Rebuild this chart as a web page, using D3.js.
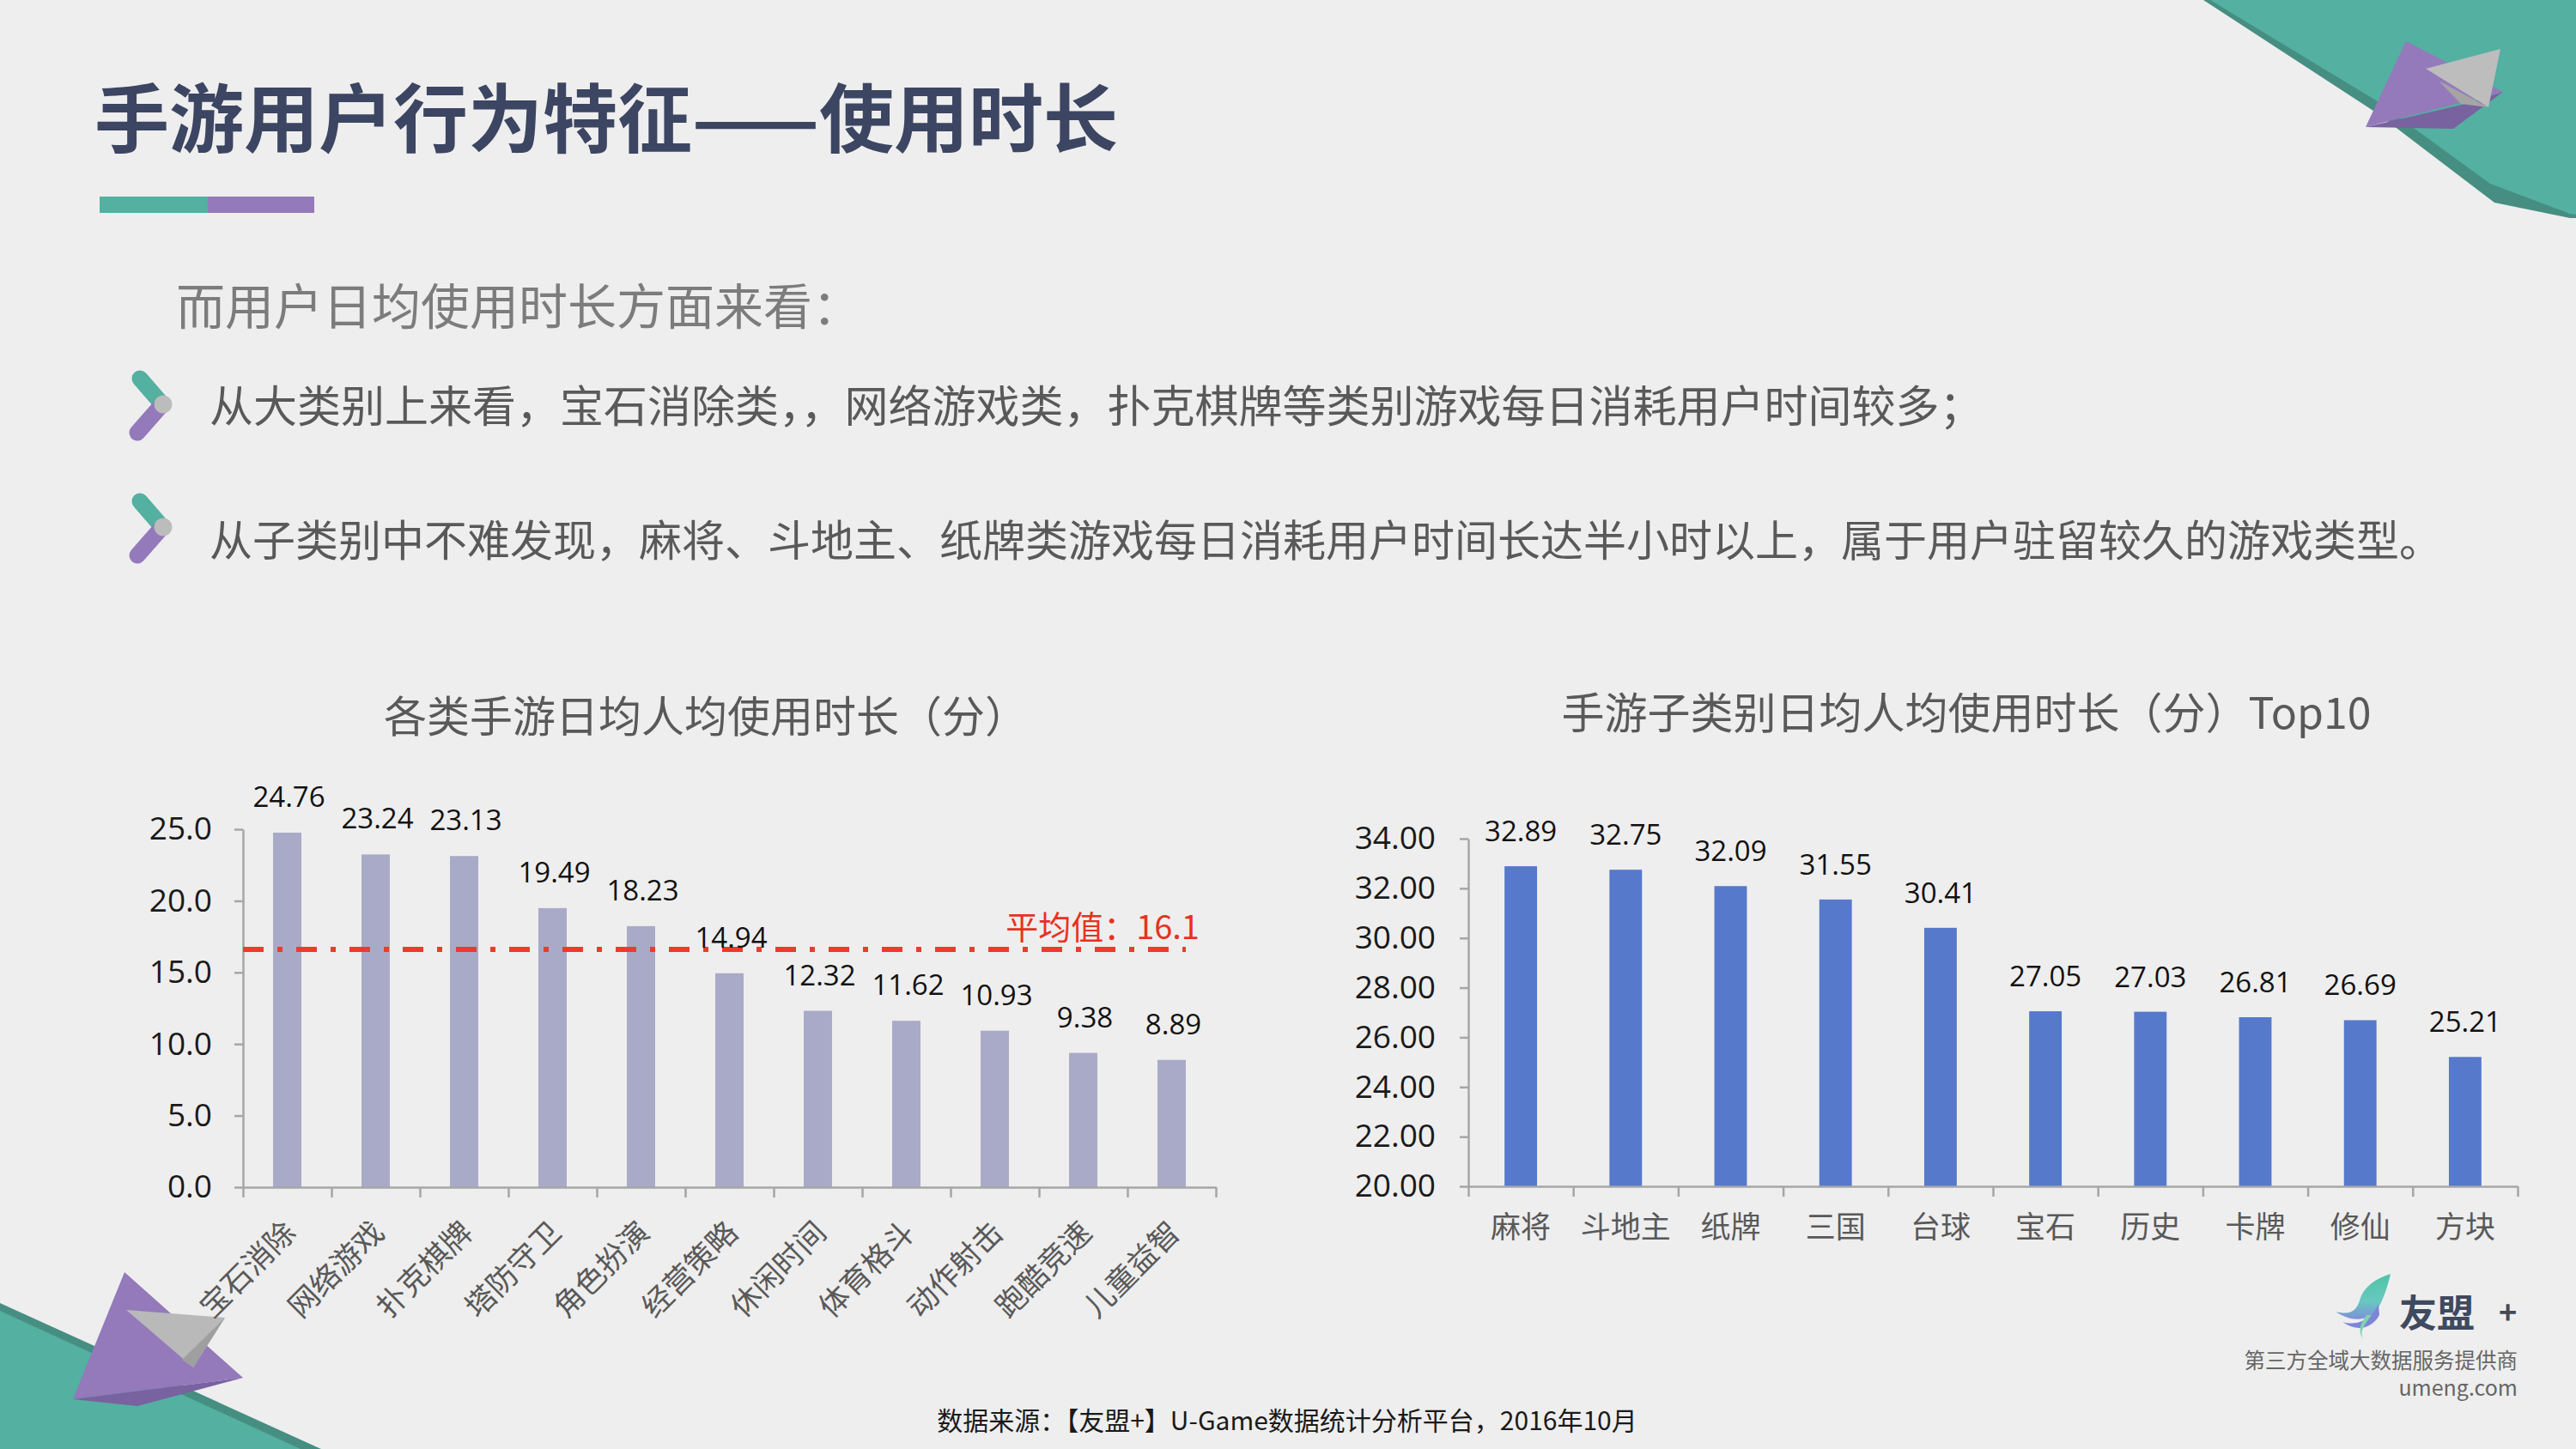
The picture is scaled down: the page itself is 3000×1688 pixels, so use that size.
<!DOCTYPE html>
<html>
<head>
<meta charset="utf-8">
<script src="https://cdn.jsdelivr.net/npm/d3@7"></script>
<style>
  html, body { margin: 0; padding: 0; background: #eeeeee; }
  svg { display: block; }
  text { font-family: "Noto Sans CJK SC", "Noto Sans", sans-serif; }
  .num { font-family: "Open Sans", "Noto Sans", sans-serif; }
</style>
</head>
<body>
<script>
// ---- data ----
const leftCats = ["宝石消除", "网络游戏", "扑克棋牌", "塔防守卫", "角色扮演", "经营策略",
                  "休闲时间", "体育格斗", "动作射击", "跑酷竞速", "儿童益智"];
const leftVals = [24.76, 23.24, 23.13, 19.49, 18.23, 14.94, 12.32, 11.62, 10.93, 9.38, 8.89];
const leftTicks = [0, 5, 10, 15, 20, 25];
const avgValue = 16.1;        // label value
const avgLineLevel = 16.6;    // where the dashed line sits in the picture

const rightCats = ["麻将", "斗地主", "纸牌", "三国", "台球", "宝石", "历史", "卡牌", "修仙", "方块"];
const rightVals = [32.89, 32.75, 32.09, 31.55, 30.41, 27.05, 27.03, 26.81, 26.69, 25.21];
const rightTicks = [20, 22, 24, 26, 28, 30, 32, 34];

const pageTitle = "手游用户行为特征——使用时长";
const subTitle = "而用户日均使用时长方面来看：";
const bullets = [
  "从大类别上来看，宝石消除类，，网络游戏类，扑克棋牌等类别游戏每日消耗用户时间较多；",
  "从子类别中不难发现，麻将、斗地主、纸牌类游戏每日消耗用户时间长达半小时以上，属于用户驻留较久的游戏类型。"
];
const leftTitle = "各类手游日均人均使用时长（分）";
const rightTitle = "手游子类别日均人均使用时长（分）Top10";
const sourceNote = "数据来源：【友盟+】U-Game数据统计分析平台，2016年10月";

const W = 3000, H = 1688;
const teal = "#54b0a1", tealDark = "#468e82", purple = "#9479bb", purpleDark = "#7862a0";

const svg = d3.select("body").append("svg")
    .attr("width", W)
    .attr("height", H);

svg.append("rect").attr("width", W).attr("height", H).attr("fill", "#eeeeee");

const defs = svg.append("defs");
const shadow = defs.append("filter").attr("id", "lineShadow")
    .attr("x", "-5%").attr("y", "-400%").attr("width", "110%").attr("height", "900%");
shadow.append("feGaussianBlur").attr("stdDeviation", 4.5);

const leafGrad = defs.append("linearGradient").attr("id", "leafGrad")
    .attr("x1", "0").attr("y1", "0").attr("x2", "0").attr("y2", "1");
leafGrad.append("stop").attr("offset", "0").attr("stop-color", "#4fc3a6");
leafGrad.append("stop").attr("offset", "0.6").attr("stop-color", "#67c9c0");
leafGrad.append("stop").attr("offset", "1").attr("stop-color", "#7f8fd8");

// ---- decorative corners ----
const poly = (pts, fill) => svg.append("polygon")
    .attr("points", pts.map(p => p.join(",")).join(" "))
    .attr("fill", fill);

poly([[2566, 0], [3000, 0], [3000, 254], [2993, 254], [2905, 236], [2767, 131]], tealDark);
poly([[2574, 0], [3000, 0], [3000, 250], [2993, 249], [2900, 214], [2767, 117]], teal);
poly([[2802, 48], [2755, 148], [2915, 107]], purple);
poly([[2755, 148], [2867, 122], [2915, 107], [2857, 150]], purpleDark);
poly([[2825, 80], [2912, 57], [2898, 125]], "#bdbdbd");
poly([[2840, 94], [2898, 125], [2866, 121]], "#a5a5a5");

poly([[0, 1518], [374, 1688], [0, 1688]], tealDark);
poly([[0, 1527], [350, 1688], [0, 1688]], teal);
poly([[145, 1482], [85, 1630], [283, 1605]], purple);
poly([[85, 1630], [160, 1638], [283, 1605]], purpleDark);
poly([[147, 1526], [262, 1535], [225, 1593]], "#b9b9b9");
poly([[212, 1584], [262, 1535], [225, 1593]], "#9f9f9f");

// ---- heading ----
svg.append("text")
    .attr("x", 110).attr("y", 171)
    .attr("font-size", 87).attr("font-weight", 700)
    .attr("fill", "#3c4562")
    .text(pageTitle);

svg.append("rect").attr("x", 116).attr("y", 229).attr("width", 126).attr("height", 19).attr("fill", teal);
svg.append("rect").attr("x", 242).attr("y", 229).attr("width", 124).attr("height", 19).attr("fill", purple);

svg.append("text")
    .attr("x", 205).attr("y", 378)
    .attr("font-size", 57)
    .attr("fill", "#7c7c7c")
    .text(subTitle);

const bulletFont = [51, 50];
bullets.forEach((t, i) => {
    const cy = 471 + i * 143;
    const g = svg.append("g");
    g.append("line").attr("x1", 163).attr("y1", cy - 30).attr("x2", 189).attr("y2", cy)
        .attr("stroke", teal).attr("stroke-width", 19).attr("stroke-linecap", "round");
    g.append("line").attr("x1", 189).attr("y1", cy).attr("x2", 160).attr("y2", cy + 33)
        .attr("stroke", purple).attr("stroke-width", 19).attr("stroke-linecap", "round");
    g.append("circle").attr("cx", 190).attr("cy", cy).attr("r", 10.5).attr("fill", "#bcbcbc");

    svg.append("text")
        .attr("x", 244).attr("y", cy + 21 + (i === 1 ? 13 : 0))
        .attr("font-size", bulletFont[i])
        .attr("fill", "#595959")
        .text(t);
});

// ---- shared axis styling ----
function styleAxis(g) {
    g.select(".domain").attr("stroke", "#a6a6a6").attr("stroke-width", 2.5);
    g.selectAll(".tick line").attr("stroke", "#a6a6a6").attr("stroke-width", 2.5);
    g.selectAll(".tick text")
        .attr("class", "num")
        .attr("font-size", 37)
        .attr("fill", "#1a1a1a");
}

// ---- left chart ----
const L = { left: 283, right: 1416, top: 966, bottom: 1383 };

svg.append("text")
    .attr("x", 822).attr("y", 853)
    .attr("text-anchor", "middle")
    .attr("font-size", 50)
    .attr("fill", "#595959")
    .text(leftTitle);

const xL = d3.scaleBand().domain(leftCats).range([L.left, L.right])
    .paddingInner(0.68).paddingOuter(0.34);
const yL = d3.scaleLinear().domain([0, 25]).range([L.bottom, L.top]);

svg.append("g")
    .selectAll("rect")
    .data(leftVals)
    .join("rect")
    .attr("x", (d, i) => xL(leftCats[i]))
    .attr("y", d => yL(d))
    .attr("width", xL.bandwidth())
    .attr("height", d => yL(0) - yL(d))
    .attr("fill", "#a9aac8");

svg.append("g")
    .attr("transform", `translate(${L.left},0)`)
    .call(d3.axisLeft(yL).tickValues(leftTicks).tickFormat(d3.format(".1f"))
        .tickSize(10).tickSizeOuter(0).tickPadding(26))
    .call(styleAxis);

const idxL = d3.scaleLinear().domain([0, leftCats.length]).range([L.left, L.right]);
svg.append("g")
    .attr("transform", `translate(0,${L.bottom})`)
    .call(d3.axisBottom(idxL).tickValues(d3.range(leftCats.length + 1))
        .tickFormat("").tickSize(12).tickSizeOuter(0))
    .call(styleAxis);

svg.append("g")
    .selectAll("text")
    .data(leftCats)
    .join("text")
    .attr("transform", d => `translate(${xL(d) + xL.bandwidth() / 2 + 12},${L.bottom + 55}) rotate(-45)`)
    .attr("text-anchor", "end")
    .attr("font-size", 35)
    .attr("fill", "#595959")
    .text(d => d);

// average line with soft shadow
const avgY = yL(avgLineLevel);
const avgX2 = xL(leftCats[leftCats.length - 1]) + xL.bandwidth();
svg.append("line")
    .attr("x1", L.left + 4).attr("x2", avgX2)
    .attr("y1", avgY + 12).attr("y2", avgY + 12)
    .attr("stroke", "#8a8a8a").attr("stroke-width", 8)
    .attr("stroke-dasharray", "24,16,6,16")
    .attr("opacity", 0.85)
    .attr("filter", "url(#lineShadow)");
svg.append("line")
    .attr("x1", L.left).attr("x2", avgX2)
    .attr("y1", avgY).attr("y2", avgY)
    .attr("stroke", "#ee3a2a").attr("stroke-width", 6)
    .attr("stroke-dasharray", "24,16,6,16");

svg.append("text")
    .attr("x", avgX2 + 16).attr("y", avgY - 12)
    .attr("text-anchor", "end")
    .attr("font-size", 38)
    .attr("fill", "#e8321e")
    .text(`平均值：${avgValue}`);

svg.append("g")
    .selectAll("text")
    .data(leftVals)
    .join("text")
    .attr("class", "num")
    .attr("x", (d, i) => xL(leftCats[i]) + xL.bandwidth() / 2 + 2)
    .attr("y", d => yL(d) - 30)
    .attr("text-anchor", "middle")
    .attr("font-size", 33)
    .attr("fill", "#111")
    .text(d => d.toFixed(2));

// ---- right chart ----
const R = { left: 1710, right: 2932, top: 977, bottom: 1382 };

svg.append("text")
    .attr("x", 2290).attr("y", 849)
    .attr("text-anchor", "middle")
    .attr("font-size", 50)
    .attr("fill", "#595959")
    .text(rightTitle);

const xR = d3.scaleBand().domain(rightCats).range([R.left, R.right])
    .paddingInner(0.69).paddingOuter(0.345);
const yR = d3.scaleLinear().domain([20, 34]).range([R.bottom, R.top]);

svg.append("g")
    .selectAll("rect")
    .data(rightVals)
    .join("rect")
    .attr("x", (d, i) => xR(rightCats[i]))
    .attr("y", d => yR(d))
    .attr("width", xR.bandwidth())
    .attr("height", d => yR(20) - yR(d))
    .attr("fill", "#5679cb");

svg.append("g")
    .attr("transform", `translate(${R.left},0)`)
    .call(d3.axisLeft(yR).tickValues(rightTicks).tickFormat(d3.format(".2f"))
        .tickSize(10).tickSizeOuter(0).tickPadding(28))
    .call(styleAxis);

const idxR = d3.scaleLinear().domain([0, rightCats.length]).range([R.left, R.right]);
svg.append("g")
    .attr("transform", `translate(0,${R.bottom})`)
    .call(d3.axisBottom(idxR).tickValues(d3.range(rightCats.length + 1))
        .tickFormat("").tickSize(12).tickSizeOuter(0))
    .call(styleAxis);

svg.append("g")
    .selectAll("text")
    .data(rightCats)
    .join("text")
    .attr("x", d => xR(d) + xR.bandwidth() / 2)
    .attr("y", R.bottom + 60)
    .attr("text-anchor", "middle")
    .attr("font-size", 35)
    .attr("fill", "#595959")
    .text(d => d);

svg.append("g")
    .selectAll("text")
    .data(rightVals)
    .join("text")
    .attr("class", "num")
    .attr("x", (d, i) => xR(rightCats[i]) + xR.bandwidth() / 2)
    .attr("y", d => yR(d) - 29)
    .attr("text-anchor", "middle")
    .attr("font-size", 33)
    .attr("fill", "#111")
    .text(d => d.toFixed(2));

// ---- logo ----
const logo = svg.append("g");
logo.append("path")
    .attr("d", "M2784,1484 C2765,1490 2752,1500 2748,1515 C2744,1528 2736,1532 2720,1528 C2738,1540 2756,1540 2768,1526 C2776,1514 2780,1500 2784,1484 Z")
    .attr("fill", "url(#leafGrad)");
logo.append("path")
    .attr("d", "M2770,1520 C2760,1538 2745,1545 2728,1540 C2745,1552 2762,1548 2771,1532 Z")
    .attr("fill", "#7b86d6");
logo.append("path")
    .attr("d", "M2762,1532 C2752,1545 2748,1552 2752,1560 C2746,1552 2748,1542 2756,1532 Z")
    .attr("fill", "#7fd2b2");
logo.append("text")
    .attr("x", 2794).attr("y", 1546)
    .attr("font-size", 44).attr("font-weight", 700)
    .attr("fill", "#3f4a5f")
    .text("友盟");
logo.append("text")
    .attr("x", 2910).attr("y", 1542)
    .attr("font-size", 36).attr("font-weight", 700)
    .attr("fill", "#3f4a5f")
    .text("+");
logo.append("text")
    .attr("x", 2932).attr("y", 1594)
    .attr("text-anchor", "end")
    .attr("font-size", 24.5)
    .attr("fill", "#666")
    .text("第三方全域大数据服务提供商");
logo.append("text")
    .attr("x", 2932).attr("y", 1626)
    .attr("text-anchor", "end")
    .attr("font-family", "Lato, 'Open Sans', sans-serif")
    .attr("font-size", 25)
    .attr("fill", "#666")
    .text("umeng.com");

// ---- source note ----
svg.append("text")
    .attr("x", 1499).attr("y", 1666)
    .attr("text-anchor", "middle")
    .attr("font-size", 30)
    .attr("fill", "#1a1a1a")
    .text(sourceNote);
</script>
</body>
</html>
